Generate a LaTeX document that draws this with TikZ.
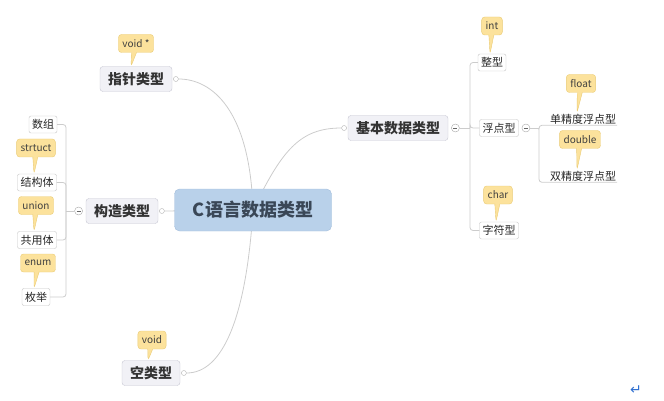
\documentclass[tikz,border=0pt]{standalone}
\usepackage{fontspec}
\setmainfont{Noto Sans CJK SC}
\newfontfamily\symfont{DejaVu Sans}
\usepackage{tikz}
\usetikzlibrary{positioning, shapes.callouts, backgrounds, calc}
\definecolor{rootfill}{HTML}{B9D1EA}
\definecolor{rootline}{HTML}{A3BEDC}
\definecolor{rootink}{HTML}{3A4757}
\definecolor{topicfill}{HTML}{F1F1F6}
\definecolor{topicline}{HTML}{C6C6D2}
\definecolor{boxline}{HTML}{C4C4C4}
\definecolor{notefill}{HTML}{FCE29C}
\definecolor{noteline}{HTML}{EACB74}
\definecolor{linegray}{HTML}{CCCCCC}
\definecolor{retblue}{HTML}{2F6FD0}

\begin{document}
\begin{tikzpicture}[x=1pt, y=-1pt,
    link/.style={draw=linegray, line width=0.8pt},
    root/.style={rectangle, rounded corners=5pt, fill=rootfill, draw=rootline,
        minimum width=157pt, minimum height=42pt, text=rootink,
        font=\fontsize{18}{18}\selectfont\bfseries},
    topic/.style={rectangle, rounded corners=3pt, fill=topicfill, draw=topicline,
        minimum height=25pt, inner xsep=8pt, text=black!80,
        font=\fontsize{14}{14}\selectfont\bfseries},
    leaf/.style={rectangle, rounded corners=2pt, fill=white, draw=boxline,
        minimum height=17pt, inner xsep=3pt, inner ysep=1pt, text=black!85,
        font=\fontsize{11}{11}\selectfont},
    bare/.style={inner xsep=1pt, inner ysep=1pt, text=black!85,
        font=\fontsize{11}{11}\selectfont},
    note/.style={rectangle callout, rounded corners=3pt, fill=notefill, draw=noteline,
        callout pointer width=5pt, minimum height=18pt, inner xsep=4pt, inner ysep=1pt,
        text=black!75, font=\fontsize{10}{10}\selectfont},
    knob/.style={circle, draw=black!30, fill=white, inner sep=0pt, minimum size=5pt},
    fold/.style={circle, draw=black!35, fill=white, inner sep=0pt, minimum size=8pt,
        path picture={\draw[black!60] ($(path picture bounding box.center)+(-2pt,0)$)
            -- ($(path picture bounding box.center)+(2pt,0)$);}}]
\useasboundingbox (0,0) rectangle (664,401);

% main topics
\node[root] (root) at (253,210) {C语言数据类型};
\node[topic] (ptr) at (136,79) {指针类型};
\node[topic] (cons) at (122,211) {构造类型};
\node[topic] (empty) at (151,373) {空类型};
\node[topic] (basic) at (398,128) {基本数据类型};

\node[knob, right=1pt of ptr] (ptrk) {};
\node[knob, right=1pt of cons] (consk) {};
\node[knob, right=1pt of empty] (emptyk) {};
\node[knob, left=1pt of basic] (basick) {};
\node[fold, left=3pt of cons] (consf) {};
\node[fold, right=3pt of basic] (basicf) {};

% 构造类型 children
\node[leaf] (arr) at (43,124.5) {数组};
\node[leaf] (struct) at (37,182.5) {结构体};
\node[leaf] (union) at (37,240) {共用体};
\node[leaf] (enum) at (36,297) {枚举};

% 基本数据类型 children
\node[leaf] (int) at (492,62.5) {整型};
\node[leaf] (float) at (499,128) {浮点型};
\node[leaf] (char) at (499,230.5) {字符型};
\node[fold, right=3pt of float] (floatf) {};
\node[bare] (single) at (583,119) {单精度浮点型};
\node[bare] (double) at (583,176) {双精度浮点型};

% notes
\node[note, callout absolute pointer={($(ptr.north)+(-5,0)$)}] (ptrn) at (136,43.5) {void *};
\node[note, callout absolute pointer={($(struct.north)+(-3,0)$)}] (structn) at (36,148) {strtuct};
\node[note, callout absolute pointer={($(union.north)+(-3,0)$)}] (unionn) at (36,205.5) {union};
\node[note, callout absolute pointer={($(enum.north)+(-2,0)$)}] (enumn) at (38,263) {enum};
\node[note, callout absolute pointer={($(empty.north)+(-3,0)$)}] (emptyn) at (152,340) {void};
\node[note, callout absolute pointer={($(int.north)+(-2,0)$)}] (intn) at (492,26) {int};
\node[note, callout absolute pointer={($(single.north)+(-6,0)$)}] (singlen) at (581,83.5) {float};
\node[note, callout absolute pointer={($(double.north)+(-6,0)$)}] (doublen) at (580,139.5) {double};
\node[note, callout absolute pointer={($(char.north)+(-3,0)$)}] (charn) at (498,195) {char};

\node[text=retblue, font=\symfont\fontsize{14}{14}\selectfont] (ret) at (636,390) {↵};

\begin{scope}[on background layer]
    \draw[link] (root.center) .. controls (250,110) and (212,79) .. (ptrk.east);
    \draw[link] (root.center) .. controls (282,150) and (300,128) .. (basick.west);
    \draw[link] (root.center) .. controls (246,320) and (222,373) .. (emptyk.east);
    \draw[link] (root.center) -- (consk.east);
\end{scope}

% brackets
\coordinate (consb) at (66,211);
\coordinate (basicb) at (470,128);
\coordinate (floatb) at (539,128);
\draw[link] (consf) -- (consb);
\foreach \c in {arr, struct, union, enum}
    \draw[link, rounded corners=3pt] (consb) |- (\c.east);
\draw[link] (basicf) -- (basicb);
\foreach \c in {int, float, char}
    \draw[link, rounded corners=3pt] (basicb) |- (\c.west);
\draw[link] (floatf) -- (floatb);
\foreach \c in {single, double}
    \draw[link, rounded corners=3pt] (floatb) |- (\c.south west) -- (\c.south east);
\end{tikzpicture}
\end{document}
